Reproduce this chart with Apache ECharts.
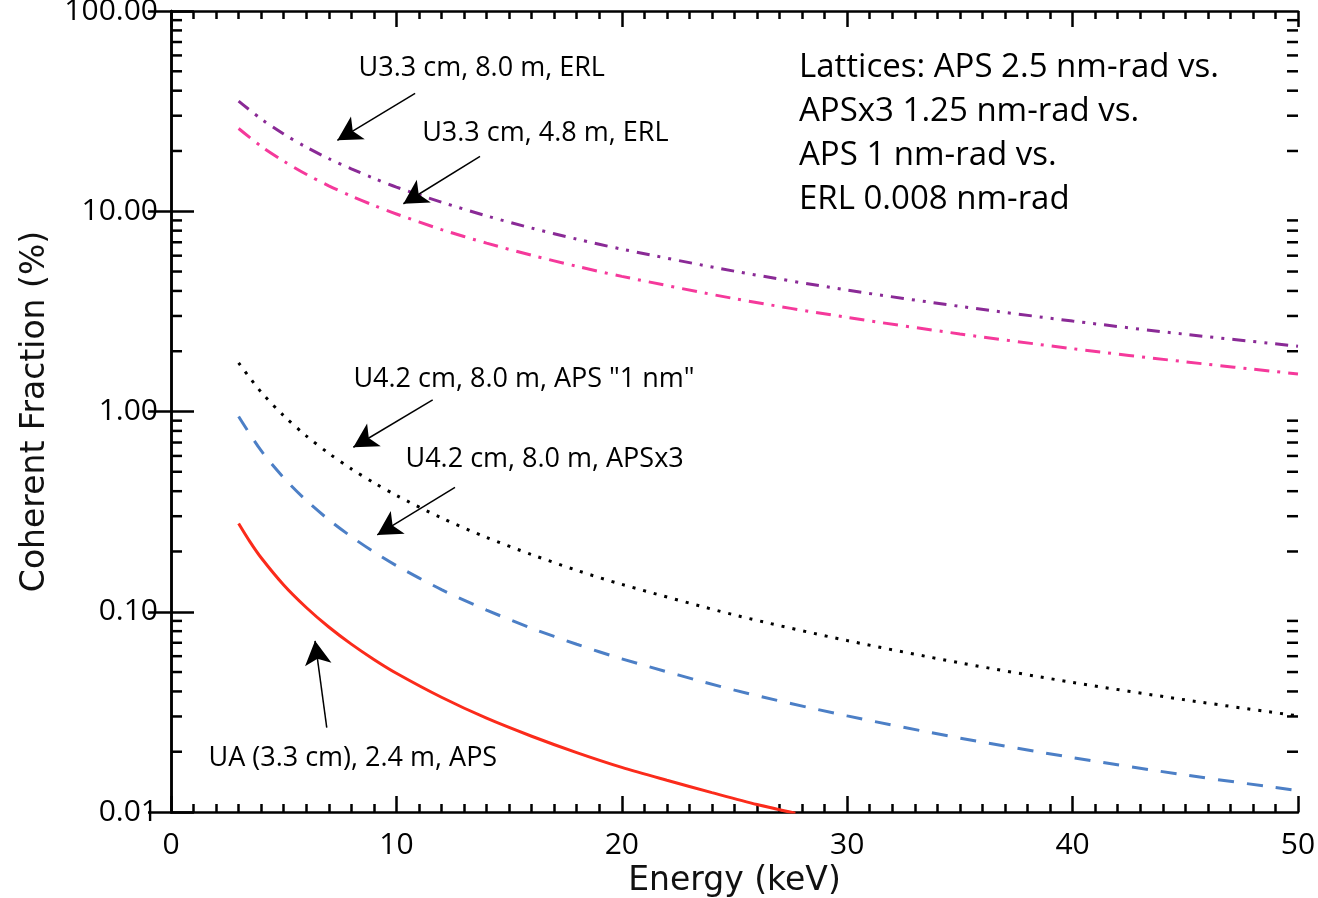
<!DOCTYPE html>
<html>
<head>
<meta charset="utf-8">
<script src="https://cdn.jsdelivr.net/npm/echarts@6/dist/echarts.min.js"></script>
<style>
  html, body { margin: 0; padding: 0; background: #fff; }
  #chart { width: 1318px; height: 898px; }
</style>
</head>
<body>
<div id="chart"></div>
<script>
// energy grid (keV) shared by the four upper curves
const energy = [3, 4, 5, 6, 7, 8, 9, 10, 12, 14, 16, 18, 20, 25, 30, 35, 40, 45, 50]

// coherent fraction (%)
const u33_80_erl = [35.5, 28.9, 24.3, 20.9, 18.3, 16.3, 14.6, 13.2, 11.1, 9.48, 8.24, 7.26, 6.47, 5.02, 4.04, 3.35, 2.83, 2.43, 2.12]
const u33_48_erl = [25.9, 21.1, 17.8, 15.3, 13.4, 11.9, 10.7, 9.69, 8.10, 6.93, 6.03, 5.31, 4.73, 3.66, 2.95, 2.44, 2.06, 1.77, 1.54]
const u42_aps1nm = [1.75, 1.25, 0.953, 0.756, 0.618, 0.517, 0.441, 0.381, 0.294, 0.235, 0.193, 0.161, 0.137, 0.0964, 0.0718, 0.0556, 0.0444, 0.0363, 0.0302]
const u42_apsx3 = [0.944, 0.637, 0.467, 0.360, 0.288, 0.237, 0.199, 0.170, 0.129, 0.102, 0.0827, 0.0688, 0.0582, 0.0406, 0.0302, 0.0234, 0.0187, 0.0153, 0.0128]

// the UA curve leaves the plot at 0.01, so it has its own energies
const energyUA = [3, 3.5, 4, 5, 6, 7, 8, 9, 10, 12, 14, 16, 18, 20, 22, 24, 26, 27.7]
const ua_aps = [0.276, 0.224, 0.186, 0.136, 0.105, 0.0839, 0.0689, 0.0578, 0.0493, 0.0374, 0.0294, 0.0239, 0.0198, 0.0167, 0.0144, 0.0125, 0.0109, 0.00985]

// log minor ticks (2..9 in each decade)
const decades = [0.01, 0.1, 1, 10]
const minorMult = [2, 3, 4, 5, 6, 7, 8, 9]

// annotation labels: text, anchor [keV, %] (left/middle of text)
const annLabels = [
  { text: 'U3.3 cm, 8.0 m, ERL', at: [8.3, 51.9] },
  { text: 'U3.3 cm, 4.8 m, ERL', at: [11.12, 24.5] },
  { text: 'U4.2 cm, 8.0 m, APS "1 nm"', at: [8.07, 1.45] },
  { text: 'U4.2 cm, 8.0 m, APSx3', at: [10.38, 0.577] },
  { text: 'UA (3.3 cm), 2.4 m, APS', at: [1.64, 0.0185] },
]

// annotation arrows: tail -> head, [keV, %]
const annArrows = [
  [[10.83, 38.8], [7.38, 22.6]],
  [[13.71, 18.8], [10.31, 10.9]],
  [[11.61, 1.144], [8.09, 0.663]],
  [[12.6, 0.418], [9.15, 0.242]],
  [[6.91, 0.0264], [6.39, 0.0716]],
]

const latticeText = [
  'Lattices: APS 2.5 nm-rad vs.',
  'APSx3 1.25 nm-rad vs.',
  'APS 1 nm-rad vs.',
  'ERL 0.008 nm-rad',
]

function pairs(xs, ys) {
  return xs.map((x, i) => [x, ys[i]])
}

const minorTicks = []
decades.forEach(function (d) {
  minorMult.forEach(function (m) {
    minorTicks.push([0, +(d * m).toPrecision(3)])
  })
})

const frame = { show: true, lineStyle: { color: '#000', width: 2.5 } }
const tickFont = { color: '#000', fontFamily: 'Open Sans', fontSize: 30 }

function xAxisCfg(pos, labels) {
  return {
    type: 'value',
    position: pos,
    min: 0,
    max: 50,
    interval: 10,
    axisLine: frame,
    axisTick: { show: true, inside: true, length: 16, lineStyle: { color: '#000', width: 2.5 } },
    minorTick: { show: true, splitNumber: 10, length: 8, lineStyle: { color: '#000', width: 2.5 } },
    splitLine: { show: false },
    axisLabel: labels ? { ...tickFont, margin: 18 } : { show: false },
  }
}

function yAxisCfg(pos, labels) {
  return {
    type: 'log',
    logBase: 10,
    position: pos,
    min: 0.01,
    max: 100,
    axisLine: frame,
    axisTick: { show: true, inside: true, length: 23, lineStyle: { color: '#000', width: 2.5 } },
    minorTick: { show: false },
    splitLine: { show: false },
    axisLabel: labels
      ? { ...tickFont, margin: 13, formatter: (v) => Number(v).toFixed(2) }
      : { show: false },
  }
}

const xBottom = xAxisCfg('bottom', true)
xBottom.name = 'Energy (keV)'
xBottom.nameLocation = 'middle'
xBottom.nameGap = 46
xBottom.nameTextStyle = { fontFamily: 'DejaVu Sans', fontSize: 33, color: '#111' }

const yLeft = yAxisCfg('left', true)
yLeft.name = 'Coherent Fraction (%)'
yLeft.nameLocation = 'middle'
yLeft.nameRotate = 90
yLeft.nameGap = 119
yLeft.nameTextStyle = { fontFamily: 'DejaVu Sans', fontSize: 33, color: '#111' }

function curve(name, xs, ys, color, dash) {
  return {
    name: name,
    type: 'line',
    data: pairs(xs, ys),
    symbol: 'none',
    smooth: 0.3,
    silent: true,
    lineStyle: { color: color, width: 3, type: dash, cap: 'butt' },
  }
}

const chart = echarts.init(document.getElementById('chart'))

const black = curve('U4.2 cm, 8.0 m, APS "1 nm"', energy, u42_aps1nm, '#000000', [3, 8])
black.markLine = {
  silent: true,
  symbol: ['none', 'arrow'],
  symbolSize: [20, 24],
  lineStyle: { color: '#000', width: 1.5, type: 'solid' },
  label: { show: false },
  emphasis: { disabled: true },
  data: annArrows.map((a) => [{ coord: a[0] }, { coord: a[1] }]),
}
black.markPoint = {
  silent: true,
  symbol: 'rect',
  symbolSize: 1,
  itemStyle: { color: 'transparent' },
  label: {
    show: true,
    position: 'right',
    distance: 0,
    color: '#000',
    fontFamily: 'Open Sans',
    fontSize: 27,
    formatter: (p) => p.name,
  },
  data: annLabels.map((l) => ({ name: l.text, coord: l.at })),
}

chart.setOption({
  animation: false,
  backgroundColor: '#fff',
  grid: { left: 171, right: 20, top: 11, bottom: 86, containLabel: false, outerBoundsMode: 'none' },
  xAxis: [xBottom, xAxisCfg('top', false)],
  yAxis: [yLeft, yAxisCfg('right', false)],
  graphic: [
    {
      type: 'text',
      left: 799,
      top: 46,
      style: {
        text: latticeText.join('\n'),
        fontFamily: 'Open Sans',
        fontSize: 33,
        lineHeight: 44,
        fill: '#000',
      },
    },
  ],
  series: [
    curve('U3.3 cm, 8.0 m, ERL', energy, u33_80_erl, '#8a2a96', [13, 8, 3, 8, 3, 8]),
    curve('U3.3 cm, 4.8 m, ERL', energy, u33_48_erl, '#f5399b', [15, 8, 3, 8]),
    black,
    curve('U4.2 cm, 8.0 m, APSx3', energy, u42_apsx3, '#4c7fc6', [16, 13]),
    curve('UA (3.3 cm), 2.4 m, APS', energyUA, ua_aps, '#fb2b1b', 'solid'),
    {
      type: 'custom',
      silent: true,
      data: minorTicks,
      encode: { x: 0, y: 1 },
      renderItem: function (params, api) {
        const y = api.coord([0, api.value(1)])[1]
        const cs = params.coordSys
        const style = { stroke: '#000', lineWidth: 2.5 }
        return {
          type: 'group',
          children: [
            { type: 'line', shape: { x1: cs.x, y1: y, x2: cs.x + 11, y2: y }, style: style },
            { type: 'line', shape: { x1: cs.x + cs.width - 11, y1: y, x2: cs.x + cs.width, y2: y }, style: style },
          ],
        }
      },
    },
  ],
})
</script>
</body>
</html>
